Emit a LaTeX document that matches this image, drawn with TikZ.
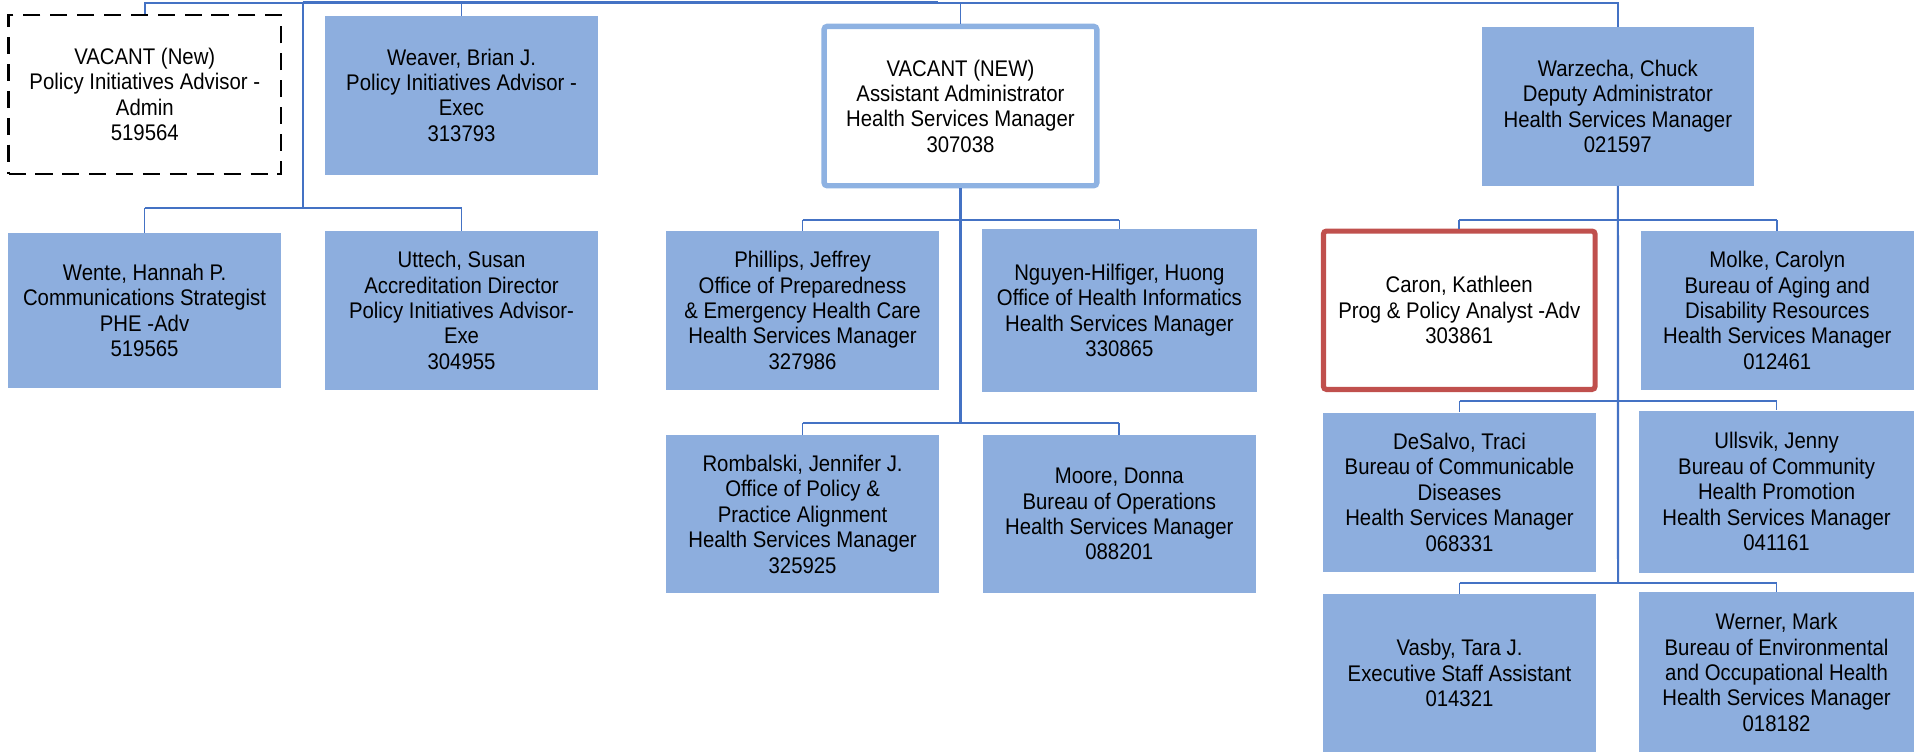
\documentclass[tikz,border=0pt]{standalone}
\usepackage{fontspec}
\setmainfont{Liberation Sans}[FakeStretch=0.9]
\definecolor{boxfill}{RGB}{141,174,222}
\definecolor{aablue}{RGB}{142,178,226}
\definecolor{linkblue}{RGB}{68,114,196}
\definecolor{caronred}{RGB}{192,80,77}
\begin{document}
\begin{tikzpicture}[x=1pt,y=-1pt,
  orgbox/.style={rectangle, fill=boxfill, inner sep=0pt, align=center,
    minimum width=223pt, minimum height=130pt,
    font=\fontsize{18.5}{20.8}\selectfont, text=black},
  vacantbox/.style={orgbox, fill=white, draw=black, line width=2.2pt, dash pattern=on 14pt off 8pt},
  aabox/.style={orgbox, fill=white, draw=aablue, line width=4.4pt, rounded corners=2.5pt},
  caronbox/.style={orgbox, fill=white, draw=caronred, line width=4.2pt, rounded corners=2.5pt},
  trunk/.style={draw=linkblue, line width=1.8pt},
  topthick/.style={draw=linkblue, line width=2.3pt},
  thinlink/.style={draw=linkblue, line width=1.3pt},
  drop/.style={draw=linkblue, line width=1.4pt}]
\useasboundingbox (0,0) rectangle (1568,615);
\clip (0,0) rectangle (1568,615);

% row 1
\node[vacantbox] (vac1) at (118.5,77.4) {VACANT (New)\\Policy Initiatives Advisor -\\Admin\\519564};
\node[orgbox, minimum width=223.5pt] (weaver) at (377.7,77.9) {Weaver, Brian J.\\Policy Initiatives Advisor -\\Exec\\313793};
\node[aabox, minimum width=223.2pt, minimum height=130.4pt] (aa) at (786,86.8) {VACANT (NEW)\\Assistant Administrator\\Health Services Manager\\307038};
\node[orgbox, minimum width=222pt] (warz) at (1324,87) {Warzecha, Chuck\\Deputy Administrator\\Health Services Manager\\021597};

% left group
\node[orgbox, minimum height=127pt] (wente) at (118.3,254) {Wente, Hannah P.\\Communications Strategist\\PHE -Adv\\519565};
\node[orgbox] (uttech) at (377.7,254) {Uttech, Susan\\Accreditation Director\\Policy Initiatives Advisor-\\Exe\\304955};

% center group
\node[orgbox, minimum width=223.5pt] (phillips) at (656.8,254) {Phillips, Jeffrey\\Office of Preparedness\\\& Emergency Health Care\\Health Services Manager\\327986};
\node[orgbox, minimum width=225.4pt, minimum height=132.8pt] (nguyen) at (916.1,254.1) {Nguyen-Hilfiger, Huong\\Office of Health Informatics\\Health Services Manager\\330865};
\node[orgbox, minimum width=223.5pt, minimum height=129.6pt] (rombalski) at (656.8,420.8) {Rombalski, Jennifer J.\\Office of Policy \&\\Practice Alignment\\Health Services Manager\\325925};
\node[orgbox, minimum height=129.6pt] (moore) at (916,420.8) {Moore, Donna\\Bureau of Operations\\Health Services Manager\\088201};

% right group
\node[caronbox, minimum width=222.3pt, minimum height=129.6pt] (caron) at (1194.2,253.9) {Caron, Kathleen\\Prog \& Policy Analyst -Adv\\303861};
\node[orgbox, minimum width=223.8pt] (molke) at (1454.5,254) {Molke, Carolyn\\Bureau of Aging and\\Disability Resources\\Health Services Manager\\012461};
\node[orgbox, minimum width=223.3pt, minimum height=130.2pt] (desalvo) at (1194.4,402.8) {DeSalvo, Traci\\Bureau of Communicable\\Diseases\\Health Services Manager\\068331};
\node[orgbox, minimum width=225.7pt, minimum height=132.7pt] (ullsvik) at (1453.9,402.4) {Ullsvik, Jenny\\Bureau of Community\\Health Promotion\\Health Services Manager\\041161};
\node[orgbox, minimum width=223.3pt] (vasby) at (1194.4,551) {Vasby, Tara J.\\Executive Staff Assistant\\014321};
\node[orgbox, minimum width=225.7pt, minimum height=131.5pt] (werner) at (1453.9,550.3) {Werner, Mark\\Bureau of Environmental\\and Occupational Health\\Health Services Manager\\018182};

% junction coordinates
\coordinate (tL) at (247.7,2.3);
\coordinate (tM) at (767.7,2.3);
\coordinate (j1) at (247.7,170.5);
\coordinate (c1) at (786,180);
\coordinate (c2) at (786,346.4);
\coordinate (r1) at (1324.2,180);
\coordinate (r2) at (1324.2,328);
\coordinate (r3) at (1324.2,476.8);

% top line
\draw[thinlink] (tL) -| (vac1.north);
\draw[topthick] (tL) -- (tM);
\draw[thinlink] (tM) -| (warz.north);
\draw[drop] (weaver.north |- tL) -- (weaver.north);
\draw[drop] (aa.north |- tL) -- (aa.north);

% left group
\draw[trunk] (tL) -- (j1);
\draw[trunk] (wente.north |- j1) -- (uttech.north |- j1);
\draw[drop] (wente.north |- j1) -- (wente.north);
\draw[drop] (uttech.north |- j1) -- (uttech.north);

% center group
\draw[trunk] (aa.south) -- (c2);
\draw[trunk] (phillips.north |- c1) -- (nguyen.north |- c1);
\draw[drop] (phillips.north |- c1) -- (phillips.north);
\draw[drop] (nguyen.north |- c1) -- (nguyen.north);
\draw[trunk] (rombalski.north |- c2) -- (moore.north |- c2);
\draw[drop] (rombalski.north |- c2) -- (rombalski.north);
\draw[drop] (moore.north |- c2) -- (moore.north);

% right group
\draw[trunk] (warz.south) -- (r3);
\draw[trunk] (caron.north |- r1) -- (molke.north |- r1);
\draw[drop] (caron.north |- r1) -- (caron.north);
\draw[drop] (molke.north |- r1) -- (molke.north);
\draw[trunk] (desalvo.north |- r2) -- (ullsvik.north |- r2);
\draw[drop] (desalvo.north |- r2) -- (desalvo.north);
\draw[drop] (ullsvik.north |- r2) -- (ullsvik.north);
\draw[trunk] (vasby.north |- r3) -- (werner.north |- r3);
\draw[drop] (vasby.north |- r3) -- (vasby.north);
\draw[drop] (werner.north |- r3) -- (werner.north);
\end{tikzpicture}
\end{document}
